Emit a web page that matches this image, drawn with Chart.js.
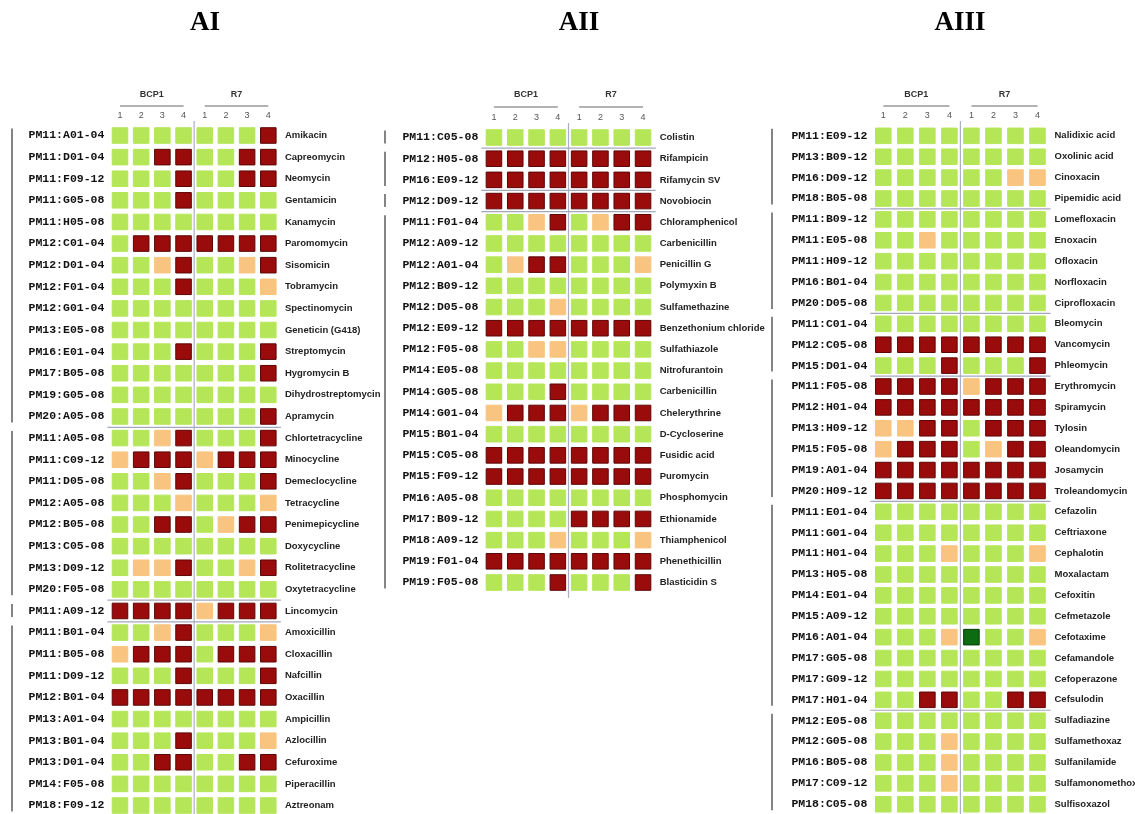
<!DOCTYPE html>
<html>
<head>
<meta charset="utf-8">
<script src="https://cdn.jsdelivr.net/npm/chart.js@4.4.1/dist/chart.umd.min.js"></script>
<style>
  html, body { margin: 0; padding: 0; background: #fff; width: 1135px; height: 814px; overflow: hidden; position: relative; }
  canvas { position: absolute; top: 0; }
</style>
</head>
<body>
<canvas id="ai" width="385" height="830" style="left:0px"></canvas>
<canvas id="aii" width="390" height="830" style="left:380px"></canvas>
<canvas id="aiii" width="370" height="830" style="left:765px"></canvas>
<script>
// 0 = no change, 1 = weak, 2 = strong, -1 = gain
const colLabels = ['1', '2', '3', '4', '1', '2', '3', '4'];
const strains = ['BCP1', 'R7'];
const panelTitles = ['AI', 'AII', 'AIII'];

const aiPlates = ['PM11:A01-04', 'PM11:D01-04', 'PM11:F09-12', 'PM11:G05-08', 'PM11:H05-08', 'PM12:C01-04', 'PM12:D01-04', 'PM12:F01-04', 'PM12:G01-04', 'PM13:E05-08', 'PM16:E01-04', 'PM17:B05-08', 'PM19:G05-08', 'PM20:A05-08',
  'PM11:A05-08', 'PM11:C09-12', 'PM11:D05-08', 'PM12:A05-08', 'PM12:B05-08', 'PM13:C05-08', 'PM13:D09-12', 'PM20:F05-08',
  'PM11:A09-12',
  'PM11:B01-04', 'PM11:B05-08', 'PM11:D09-12', 'PM12:B01-04', 'PM13:A01-04', 'PM13:B01-04', 'PM13:D01-04', 'PM14:F05-08', 'PM18:F09-12'];
const aiDrugs = ['Amikacin', 'Capreomycin', 'Neomycin', 'Gentamicin', 'Kanamycin', 'Paromomycin', 'Sisomicin', 'Tobramycin', 'Spectinomycin', 'Geneticin (G418)', 'Streptomycin', 'Hygromycin B', 'Dihydrostreptomycin', 'Apramycin',
  'Chlortetracycline', 'Minocycline', 'Demeclocycline', 'Tetracycline', 'Penimepicycline', 'Doxycycline', 'Rolitetracycline', 'Oxytetracycline',
  'Lincomycin',
  'Amoxicillin', 'Cloxacillin', 'Nafcillin', 'Oxacillin', 'Ampicillin', 'Azlocillin', 'Cefuroxime', 'Piperacillin', 'Aztreonam'];
const aiGroups = [14, 8, 1, 9];
const aiValues = [
  [0,0,0,0, 0,0,0,2], [0,0,2,2, 0,0,2,2], [0,0,0,2, 0,0,2,2], [0,0,0,2, 0,0,0,0], [0,0,0,0, 0,0,0,0],
  [0,2,2,2, 2,2,2,2], [0,0,1,2, 0,0,1,2], [0,0,0,2, 0,0,0,1], [0,0,0,0, 0,0,0,0], [0,0,0,0, 0,0,0,0],
  [0,0,0,2, 0,0,0,2], [0,0,0,0, 0,0,0,2], [0,0,0,0, 0,0,0,0], [0,0,0,0, 0,0,0,2],
  [0,0,1,2, 0,0,0,2], [1,2,2,2, 1,2,2,2], [0,0,1,2, 0,0,0,2], [0,0,0,1, 0,0,0,1], [0,0,2,2, 0,1,2,2],
  [0,0,0,0, 0,0,0,0], [0,1,1,2, 0,0,1,2], [0,0,0,0, 0,0,0,0],
  [2,2,2,2, 1,2,2,2],
  [0,0,1,2, 0,0,0,1], [1,2,2,2, 0,2,2,2], [0,0,0,2, 0,0,0,2], [2,2,2,2, 2,2,2,2], [0,0,0,0, 0,0,0,0],
  [0,0,0,2, 0,0,0,1], [0,0,2,2, 0,0,2,2], [0,0,0,0, 0,0,0,0], [0,0,0,0, 0,0,0,0]
];

const aiiPlates = ['PM11:C05-08', 'PM12:H05-08', 'PM16:E09-12', 'PM12:D09-12', 'PM11:F01-04', 'PM12:A09-12', 'PM12:A01-04', 'PM12:B09-12', 'PM12:D05-08', 'PM12:E09-12', 'PM12:F05-08',
  'PM14:E05-08', 'PM14:G05-08', 'PM14:G01-04', 'PM15:B01-04', 'PM15:C05-08', 'PM15:F09-12', 'PM16:A05-08', 'PM17:B09-12', 'PM18:A09-12', 'PM19:F01-04', 'PM19:F05-08'];
const aiiDrugs = ['Colistin', 'Rifampicin', 'Rifamycin SV', 'Novobiocin', 'Chloramphenicol', 'Carbenicillin', 'Penicillin G', 'Polymyxin B', 'Sulfamethazine', 'Benzethonium chloride', 'Sulfathiazole',
  'Nitrofurantoin', 'Carbenicillin', 'Chelerythrine', 'D-Cycloserine', 'Fusidic acid', 'Puromycin', 'Phosphomycin', 'Ethionamide', 'Thiamphenicol', 'Phenethicillin', 'Blasticidin S'];
const aiiGroups = [1, 2, 1, 18];
const aiiValues = [
  [0,0,0,0, 0,0,0,0], [2,2,2,2, 2,2,2,2], [2,2,2,2, 2,2,2,2], [2,2,2,2, 2,2,2,2], [0,0,1,2, 0,1,2,2],
  [0,0,0,0, 0,0,0,0], [0,1,2,2, 0,0,0,1], [0,0,0,0, 0,0,0,0], [0,0,0,1, 0,0,0,0], [2,2,2,2, 2,2,2,2],
  [0,0,1,1, 0,0,0,0], [0,0,0,0, 0,0,0,0], [0,0,0,2, 0,0,0,0], [1,2,2,2, 1,2,2,2], [0,0,0,0, 0,0,0,0],
  [2,2,2,2, 2,2,2,2], [2,2,2,2, 2,2,2,2], [0,0,0,0, 0,0,0,0], [0,0,0,0, 2,2,2,2], [0,0,0,1, 0,0,0,1],
  [2,2,2,2, 2,2,2,2], [0,0,0,2, 0,0,0,2]
];

const aiiiPlates = ['PM11:E09-12', 'PM13:B09-12', 'PM16:D09-12', 'PM18:B05-08',
  'PM11:B09-12', 'PM11:E05-08', 'PM11:H09-12', 'PM16:B01-04', 'PM20:D05-08',
  'PM11:C01-04', 'PM12:C05-08', 'PM15:D01-04',
  'PM11:F05-08', 'PM12:H01-04', 'PM13:H09-12', 'PM15:F05-08', 'PM19:A01-04', 'PM20:H09-12',
  'PM11:E01-04', 'PM11:G01-04', 'PM11:H01-04', 'PM13:H05-08', 'PM14:E01-04', 'PM15:A09-12', 'PM16:A01-04', 'PM17:G05-08', 'PM17:G09-12', 'PM17:H01-04',
  'PM12:E05-08', 'PM12:G05-08', 'PM16:B05-08', 'PM17:C09-12', 'PM18:C05-08'];
const aiiiDrugs = ['Nalidixic acid', 'Oxolinic acid', 'Cinoxacin', 'Pipemidic acid',
  'Lomefloxacin', 'Enoxacin', 'Ofloxacin', 'Norfloxacin', 'Ciprofloxacin',
  'Bleomycin', 'Vancomycin', 'Phleomycin',
  'Erythromycin', 'Spiramycin', 'Tylosin', 'Oleandomycin', 'Josamycin', 'Troleandomycin',
  'Cefazolin', 'Ceftriaxone', 'Cephalotin', 'Moxalactam', 'Cefoxitin', 'Cefmetazole', 'Cefotaxime', 'Cefamandole', 'Cefoperazone', 'Cefsulodin',
  'Sulfadiazine', 'Sulfamethoxaz', 'Sulfanilamide', 'Sulfamonomethoxine', 'Sulfisoxazol'];
const aiiiGroups = [4, 5, 3, 6, 10, 5];
const aiiiValues = [
  [0,0,0,0, 0,0,0,0], [0,0,0,0, 0,0,0,0], [0,0,0,0, 0,0,1,1], [0,0,0,0, 0,0,0,0],
  [0,0,0,0, 0,0,0,0], [0,0,1,0, 0,0,0,0], [0,0,0,0, 0,0,0,0], [0,0,0,0, 0,0,0,0], [0,0,0,0, 0,0,0,0],
  [0,0,0,0, 0,0,0,0], [2,2,2,2, 2,2,2,2], [0,0,0,2, 0,0,0,2],
  [2,2,2,2, 1,2,2,2], [2,2,2,2, 2,2,2,2], [1,1,2,2, 0,2,2,2], [1,2,2,2, 0,1,2,2], [2,2,2,2, 2,2,2,2], [2,2,2,2, 2,2,2,2],
  [0,0,0,0, 0,0,0,0], [0,0,0,0, 0,0,0,0], [0,0,0,1, 0,0,0,1], [0,0,0,0, 0,0,0,0], [0,0,0,0, 0,0,0,0],
  [0,0,0,0, 0,0,0,0], [0,0,0,1, -1,0,0,1], [0,0,0,0, 0,0,0,0], [0,0,0,0, 0,0,0,0], [0,0,2,2, 0,0,2,2],
  [0,0,0,0, 0,0,0,0], [0,0,0,1, 0,0,0,0], [0,0,0,1, 0,0,0,0], [0,0,0,1, 0,0,0,0], [0,0,0,0, 0,0,0,0]
];

const fillColors = { '-1': '#0d6b12', '0': '#b5e658', '1': '#f8c47f', '2': '#9a0c0c' };
const edgeColors = { '-1': '#063c08', '0': '#b5e658', '1': '#f8c47f', '2': '#5e0505' };

const panelPlugin = {
  id: 'panel',
  beforeDatasetsDraw(chart, args, opts) {
    const ctx = chart.ctx, x = chart.scales.x, y = chart.scales.y, a = chart.chartArea;
    ctx.save();
    // strain headers
    ctx.fillStyle = '#333';
    ctx.font = 'bold 9px "Liberation Sans", Arial, sans-serif';
    ctx.textAlign = 'center';
    ctx.textBaseline = 'middle';
    strains.forEach((s, g) => {
      const x0 = x.getPixelForValue(g * 4 + 1), x1 = x.getPixelForValue(g * 4 + 4);
      ctx.fillText(s, (x0 + x1) / 2, opts.headY);
      ctx.strokeStyle = '#666';
      ctx.lineWidth = 1;
      ctx.beginPath();
      ctx.moveTo(x0, opts.lineY);
      ctx.lineTo(x1, opts.lineY);
      ctx.stroke();
    });
    // column separator
    ctx.strokeStyle = '#aab0c4';
    ctx.lineWidth = 1.2;
    ctx.beginPath();
    ctx.moveTo(x.getPixelForValue(4.5), opts.sepTop);
    ctx.lineTo(x.getPixelForValue(4.5), opts.sepBottom);
    ctx.stroke();
    // group separators and brackets
    let start = 1;
    opts.groups.forEach((n, i) => {
      const end = start + n - 1;
      if (i < opts.groups.length - 1) {
        const yy = y.getPixelForValue(end + 0.5);
        ctx.strokeStyle = '#a3a9bb';
        ctx.lineWidth = 1.2;
        ctx.beginPath();
        ctx.moveTo(a.left - 2, yy);
        ctx.lineTo(a.right + 2, yy);
        ctx.stroke();
      }
      ctx.strokeStyle = '#666';
      ctx.lineWidth = 1.6;
      ctx.beginPath();
      ctx.moveTo(opts.barX, y.getPixelForValue(start) - 7);
      ctx.lineTo(opts.barX, y.getPixelForValue(end) + 6);
      ctx.stroke();
      start = end + 1;
    });
    // panel title
    ctx.fillStyle = '#000';
    ctx.font = 'bold 27px "Liberation Serif", "Times New Roman", serif';
    ctx.textBaseline = 'middle';
    ctx.fillText(opts.title, opts.titleX, 23);
    ctx.restore();
  }
};

function makePanel(id, plates, drugs, groups, values, g) {
  const canvas = document.getElementById(id);
  const W = canvas.width, H = canvas.height;
  const n = plates.length;
  const cells = [];
  values.forEach((row, r) => row.forEach((v, c) => cells.push({ x: c + 1, y: r + 1, v: v })));
  const rowTicks = s => { s.ticks = plates.map((p, i) => ({ value: i + 1 })); };
  const noGrid = { display: false, drawTicks: false, tickLength: 0 };
  new Chart(canvas, {
    type: 'scatter',
    data: {
      datasets: [{
        data: cells,
        pointStyle: 'rect',
        pointRadius: 11,
        pointHoverRadius: 11,
        pointBorderWidth: 1,
        pointBackgroundColor: c => fillColors[c.raw.v],
        pointBorderColor: c => edgeColors[c.raw.v]
      }]
    },
    options: {
      responsive: false,
      animation: false,
      events: [],
      devicePixelRatio: 1,
      layout: { padding: { left: 0, right: 0, top: 0, bottom: H - g.bottom } },
      plugins: {
        legend: { display: false },
        tooltip: { enabled: false },
        panel: { title: g.title, titleX: g.titleX, barX: g.barX, groups: groups, headY: 95, lineY: g.lineY, sepTop: g.sepTop, sepBottom: g.sepBottom }
      },
      scales: {
        x: {
          type: 'linear', position: 'top', min: 0.5, max: 8.5,
          afterBuildTicks: s => { s.ticks = colLabels.map((l, i) => ({ value: i + 1 })); },
          afterFit: s => { s.height = g.top; },
          grid: noGrid, border: { display: false },
          ticks: { autoSkip: false, maxRotation: 0, padding: g.numPad, color: '#555', font: { size: 9, family: '"Liberation Sans", Arial, sans-serif' },
            callback: v => colLabels[v - 1] }
        },
        y: {
          type: 'linear', position: 'left', min: 0.5, max: n + 0.5, reverse: true,
          afterBuildTicks: rowTicks,
          afterFit: s => { s.width = g.left; },
          grid: noGrid, border: { display: false },
          ticks: { autoSkip: false, padding: 5, color: '#111', font: { size: 11.5, weight: 'bold', family: '"Liberation Mono", "Courier New", monospace' },
            callback: v => plates[v - 1] }
        },
        y2: {
          type: 'linear', position: 'right', min: 0.5, max: n + 0.5, reverse: true,
          afterBuildTicks: rowTicks,
          afterFit: s => { s.width = W - g.right; },
          grid: noGrid, border: { display: false },
          ticks: { autoSkip: false, padding: 6, color: '#222', font: { size: 9.5, weight: 'bold', family: '"Liberation Sans", Arial, sans-serif' },
            callback: v => drugs[v - 1] }
        }
      }
    },
    plugins: [panelPlugin]
  });
}

makePanel('ai', aiPlates, aiDrugs, aiGroups, aiValues,
  { title: panelTitles[0], titleX: 205, barX: 12, left: 109.4, right: 278.9, top: 124.7, bottom: 816.3, lineY: 106, sepTop: 121, sepBottom: 830, numPad: 4 });
makePanel('aii', aiiPlates, aiiDrugs, aiiGroups, aiiValues,
  { title: panelTitles[1], titleX: 199, barX: 5, left: 103.3, right: 273.7, top: 126.9, bottom: 593.1, lineY: 107, sepTop: 123, sepBottom: 598, numPad: 4 });
makePanel('aiii', aiiiPlates, aiiiDrugs, aiiiGroups, aiiiValues,
  { title: panelTitles[2], titleX: 195, barX: 7, left: 107.3, right: 283.5, top: 125.4, bottom: 814.7, lineY: 106, sepTop: 121, sepBottom: 830, numPad: 4 });
</script>
</body>
</html>
